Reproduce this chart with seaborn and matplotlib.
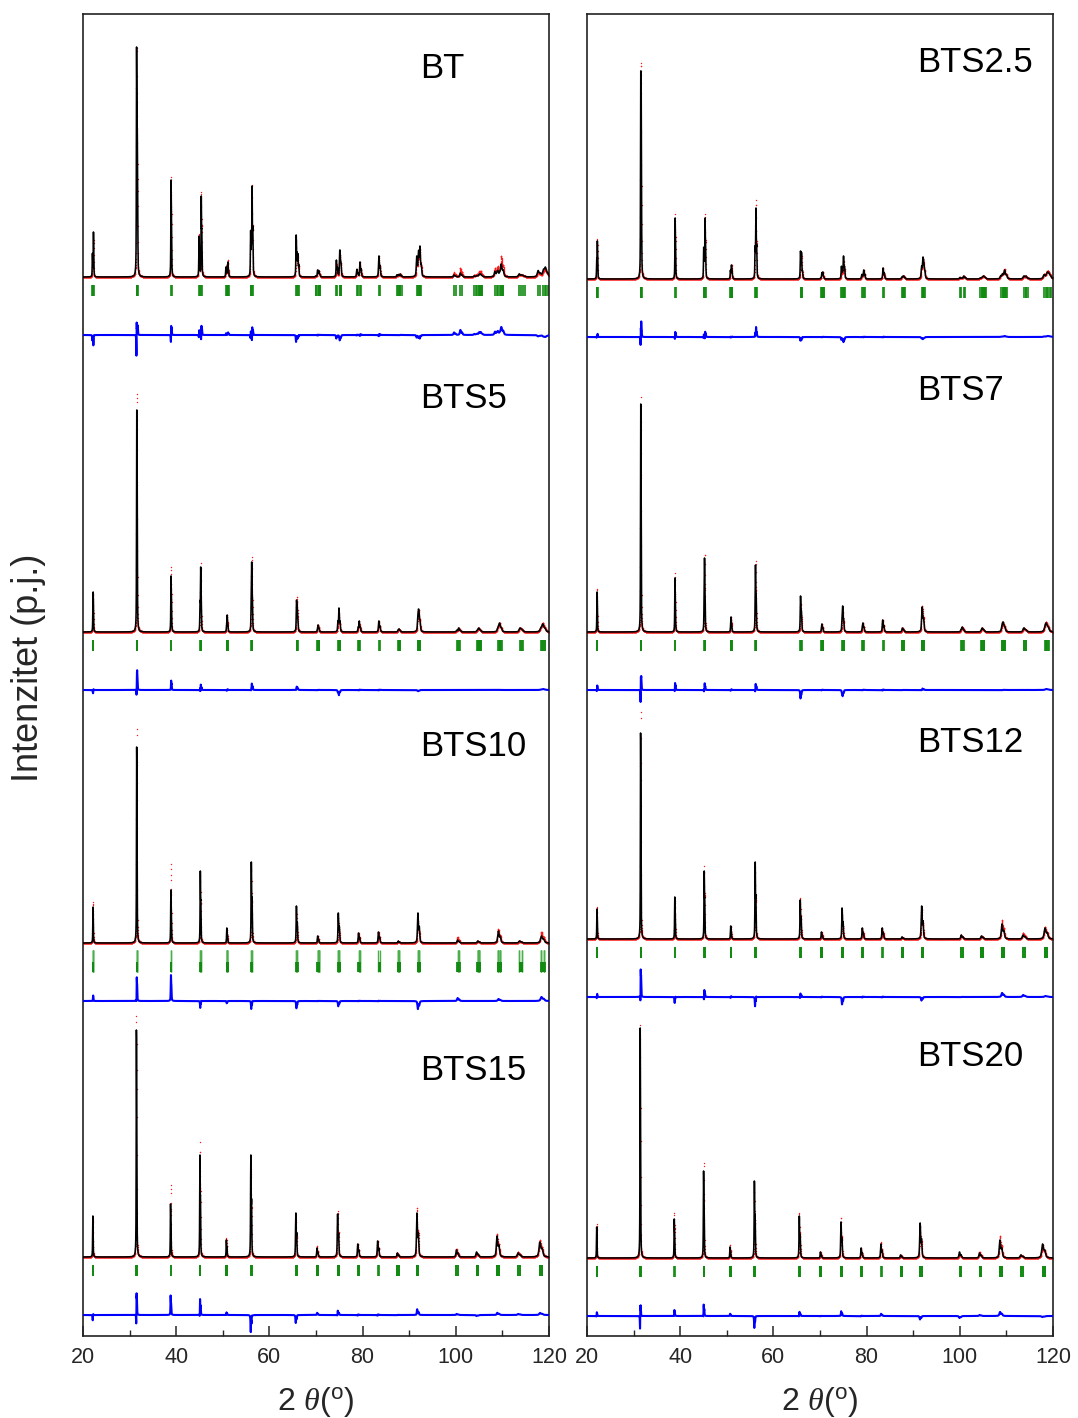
import itertools

import numpy as np
import pandas as pd
import matplotlib
matplotlib.use("Agg")
import matplotlib.pyplot as plt
from matplotlib import font_manager
from matplotlib.ticker import MultipleLocator
import seaborn as sns

# ---------------------------------------------------------------------------
# Data: perovskite reflection groups (N = h^2 + k^2 + l^2) and, per sample,
# the peak height of each group (calculated), the obs - calc misfit at the
# peak, lattice parameters a / c in angstrom and a small zero shift.
# ---------------------------------------------------------------------------
HKL_N = [1, 2, 3, 4, 5, 6, 8, 9, 10, 11, 12, 13, 14, 16, 17, 18, 19, 20]

BT_HEIGHT = [45, 230, 97, 81, 15, 91, 42, 7, 27, 15, 21, 3, 31, 4, 3, 13, 3, 10]
BT_RESID = [-8, 3, 4, 5, 2, 2, -5, 0, -5, 0, 0, 0, -3, 5, 3, 8, 0, -2]

BTS25_HEIGHT = [38, 208, 61, 61, 14, 71, 28, 7, 23, 9, 11, 3, 22, 3, 3, 9, 3, 7]
BTS25_RESID = [2, 7, 3, 3, 0, 8, -3, 0, -5, 0, 0, 0, -2, 0, 0, 1, 0, 1]

BTS5_HEIGHT = [40, 222, 56, 65, 17, 70, 32, 7, 24, 11, 11, 3, 23, 4, 4, 9, 4, 8]
BTS5_RESID = [-2, 15, 8, 3, 0, 5, 3, 0, -5, 0, 0, 0, -1, 0, 0, 0, 0, 1]

BTS7_HEIGHT = [40, 228, 54, 74, 15, 67, 36, 8, 26, 9, 12, 4, 25, 5, 4, 10, 4, 9]
BTS7_RESID = [3, 7, 5, 4, 0, 4, -8, 0, -6, 0, 0, 0, 1, 0, 0, 0, 0, 1]

BTS10_HEIGHT = [36, 196, 53, 72, 15, 81, 37, 7, 30, 10, 11, 2, 30, 3, 2, 12, 2, 7]
BTS10_RESID = [5, 20, 26, -5, -2, -6, -7, 0, -5, 0, 0, 0, -8, 3, 0, 2, 0, 4]

BTS12_HEIGHT = [30, 206, 42, 68, 13, 77, 39, 7, 31, 11, 11, 2, 33, 4, 3, 15, 4, 11]
BTS12_RESID = [2, 22, -4, 4, 0, -6, 2, 0, -7, 0, 0, 0, -3, 0, 0, 4, 2, 1]

BTS15_HEIGHT = [41, 227, 53, 102, 17, 102, 44, 9, 43, 13, 16, 4, 44, 7, 5, 21, 4, 15]
BTS15_RESID = [-3, 15, 18, 12, 2, -14, -7, 2, 3, 0, 0, 0, 5, 1, -1, 2, 1, 2]

BTS20_HEIGHT = [31, 230, 39, 87, 11, 77, 42, 6, 36, 10, 14, 3, 35, 6, 5, 18, 3, 14]
BTS20_RESID = [3, 3, 5, 9, 2, -10, 3, 0, 4, 0, 2, 0, -3, -2, 1, 4, 0, -1]

SAMPLE_NAMES = ["BT", "BTS2.5", "BTS5", "BTS7", "BTS10", "BTS12", "BTS15", "BTS20"]
LATTICE_A = [3.994, 3.998, 4.004, 4.007, 4.011, 4.013, 4.018, 4.024]
LATTICE_C = [4.034, 4.022, 4.016, 4.014, 4.011, 4.013, 4.018, 4.024]
ZERO_SHIFT = [0.008, 0.005, 0.005, 0.006, 0.004, 0.006, 0.006, 0.005]

# second (tetragonal) phase marked for BTS10
BTS10_PHASE2_A, BTS10_PHASE2_C = 4.006, 4.016

HEIGHTS = dict(zip(SAMPLE_NAMES, [BT_HEIGHT, BTS25_HEIGHT, BTS5_HEIGHT, BTS7_HEIGHT,
                                  BTS10_HEIGHT, BTS12_HEIGHT, BTS15_HEIGHT, BTS20_HEIGHT]))
RESIDS = dict(zip(SAMPLE_NAMES, [BT_RESID, BTS25_RESID, BTS5_RESID, BTS7_RESID,
                                 BTS10_RESID, BTS12_RESID, BTS15_RESID, BTS20_RESID]))

# ---------------------------------------------------------------------------
# Layout of the two stacked columns (vertical offsets in axis units)
# ---------------------------------------------------------------------------
COLUMNS = [["BT", "BTS5", "BTS10", "BTS15"], ["BTS2.5", "BTS7", "BTS12", "BTS20"]]
BASELINES = [[1059, 704, 393, 79], [1057, 704, 397, 78]]
LABEL_RISE = [[209, 234, 197, 187], [216, 241, 197, 202]]
LABEL_X = [92.3, 90.8]
DIFF_OFFSET = -58
TICK_TOP, TICK_BOTTOM = -8, -19
Y_MAX = 1322

LAM1, LAM2 = 1.54056, 1.54439
X = np.arange(20.0, 120.0001, 0.02)


def two_theta(d, lam):
    return 2 * np.degrees(np.arcsin(lam / (2 * d)))


def reflection_groups(a, c):
    counts = {}
    for h, k, l in itertools.product(range(-4, 5), repeat=3):
        n = h * h + k * k + l * l
        if n in HKL_N:
            key = (n, h * h + k * k, l * l)
            counts[key] = counts.get(key, 0) + 1
    groups = {n: [] for n in HKL_N}
    for (n, hk, ll), m in counts.items():
        d = 1.0 / np.sqrt(hk / a ** 2 + ll / c ** 2)
        groups[n].append((d, m))
    return groups


def pseudo_voigt(x, centre, fwhm, eta=0.6):
    u = (x - centre) / (fwhm / 2)
    return eta / (1 + u ** 2) + (1 - eta) * np.exp(-np.log(2) * u ** 2)


def group_profile(x, members, shift=0.0):
    y = np.zeros_like(x)
    for d, m in members:
        for lam, w in ((LAM1, 1.0), (LAM2, 0.5)):
            tt = two_theta(d, lam) + shift
            th = np.radians(tt / 2)
            fwhm = 0.09 + 0.12 * np.tan(th) ** 2
            y += m * w * pseudo_voigt(x, tt, fwhm)
    return y


def pattern(name):
    i = SAMPLE_NAMES.index(name)
    groups = reflection_groups(LATTICE_A[i], LATTICE_C[i])
    calc = np.zeros_like(X)
    obs = np.zeros_like(X)
    for n, h, r in zip(HKL_N, HEIGHTS[name], RESIDS[name]):
        prof = group_profile(X, groups[n])
        norm = prof.max()
        calc += h * prof / norm
        obs += (h + r) * group_profile(X, groups[n], ZERO_SHIFT[i]) / norm
    return calc, obs, groups


def tick_positions(groups):
    pos = []
    for n in HKL_N:
        for d, _ in groups[n]:
            for lam in (LAM1, LAM2):
                tt = two_theta(d, lam)
                if tt <= 120:
                    pos.append(tt)
    return np.array(pos)


# ---------------------------------------------------------------------------
# Styling
# ---------------------------------------------------------------------------
sns.set_theme(style="white")
installed = {f.name for f in font_manager.fontManager.ttflist}
NARROW = "Liberation Sans Narrow" if "Liberation Sans Narrow" in installed else "Liberation Sans"
plt.rcParams["font.family"] = ["Liberation Sans", "DejaVu Sans"]
plt.rcParams["mathtext.fontset"] = "custom"
plt.rcParams["mathtext.it"] = "Liberation Serif:italic"
plt.rcParams["mathtext.rm"] = NARROW

RED, BLACK, GREEN, BLUE = "#ff1a1a", "#000000", "#128a12", "#0000ff"

fig = plt.figure(figsize=(10.78, 14.18), dpi=100)
W, H = 1078, 1418
axes = [fig.add_axes([83 / W, (H - 1336) / H, 466 / W, 1322 / H]),
        fig.add_axes([587 / W, (H - 1336) / H, 466 / W, 1322 / H])]

for col, ax in enumerate(axes):
    for row, name in enumerate(COLUMNS[col]):
        base = BASELINES[col][row]
        calc, obs, groups = pattern(name)
        df = pd.DataFrame({"two_theta": X, "obs": obs + base,
                           "calc": calc + base,
                           "diff": obs - calc + base + DIFF_OFFSET})
        sns.scatterplot(data=df, x="two_theta", y="obs", ax=ax, s=1.0,
                        color=RED, linewidth=0, zorder=2)
        sns.lineplot(data=df, x="two_theta", y="calc", ax=ax, color=BLACK,
                     lw=1.15, estimator=None, sort=False, zorder=3)
        sns.lineplot(data=df, x="two_theta", y="diff", ax=ax, color=BLUE,
                     lw=1.5, estimator=None, sort=False, zorder=3)

        ticks = tick_positions(groups)
        if name == "BTS10":
            ax.vlines(ticks, base - 7, base - 29, color="#4caf4c", lw=1.0, zorder=2)
            t2 = tick_positions(reflection_groups(BTS10_PHASE2_A, BTS10_PHASE2_C))
            ax.vlines(t2, base - 19, base - 29, color=GREEN, lw=1.3, zorder=2)
        else:
            ax.vlines(ticks, base + TICK_TOP, base + TICK_BOTTOM, color=GREEN,
                      lw=1.2, zorder=2)

        ax.text(LABEL_X[col], base + LABEL_RISE[col][row], name, fontsize=25,
                ha="left", va="center", color="black")

    ax.set_xlim(20, 120)
    ax.set_ylim(0, Y_MAX)
    ax.set_yticks([])
    ax.set_ylabel("")
    ax.xaxis.set_major_locator(MultipleLocator(20))
    ax.xaxis.set_minor_locator(MultipleLocator(10))
    ax.tick_params(axis="x", which="major", direction="in", length=7, width=1.1,
                   bottom=True, top=False, labelsize=15.5, pad=8)
    ax.tick_params(axis="x", which="minor", direction="in", length=4, width=1.0,
                   bottom=True, top=False)
    for lab in ax.get_xticklabels():
        lab.set_fontfamily(NARROW)
    for sp in ax.spines.values():
        sp.set_color("#222222")
        sp.set_linewidth(1.2)
    ax.set_xlabel(r"2 $\theta$($^{\mathrm{o}}$)", fontsize=23, family=NARROW,
                  labelpad=12)

fig.text(28 / W, 1 - 668 / H, "Intenzitet (p.j.)", rotation=90, fontsize=26,
         ha="center", va="center")

fig.savefig("out.png", dpi=100)
